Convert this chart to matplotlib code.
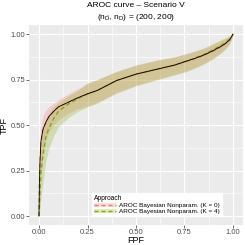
import numpy as np
import matplotlib
matplotlib.use("Agg")
from matplotlib import pyplot as plt
from matplotlib.patches import Patch
from matplotlib.lines import Line2D

plt.rcParams['font.family'] = ['Liberation Sans', 'DejaVu Sans']
plt.rcParams['mathtext.fontset'] = 'custom'
plt.rcParams['mathtext.rm'] = 'Liberation Sans'
plt.rcParams['mathtext.it'] = 'Liberation Sans:italic'

# values
fpf = [0, 0.002, 0.005, 0.01, 0.02, 0.035, 0.05, 0.075, 0.1, 0.15, 0.2, 0.25, 0.3,
       0.4, 0.5, 0.6, 0.7, 0.75, 0.8, 0.85, 0.9, 0.95, 0.98, 0.995, 1.0]
tpf_true = [0, 0.17, 0.30, 0.41, 0.475, 0.515, 0.545, 0.575, 0.60, 0.625, 0.65, 0.672, 0.69,
            0.745, 0.78, 0.805, 0.83, 0.848, 0.865, 0.885, 0.91, 0.94, 0.965, 0.99, 1.0]
k0_mean = [0, 0.16, 0.29, 0.40, 0.47, 0.512, 0.543, 0.574, 0.598, 0.625, 0.65, 0.671, 0.69,
           0.744, 0.779, 0.804, 0.829, 0.846, 0.863, 0.883, 0.907, 0.937, 0.962, 0.988, 1.0]
k0_low = [0, 0.03, 0.10, 0.22, 0.34, 0.42, 0.46, 0.50, 0.53, 0.565, 0.59, 0.605, 0.625,
          0.68, 0.72, 0.75, 0.78, 0.795, 0.815, 0.84, 0.87, 0.91, 0.945, 0.98, 1.0]
k0_up = [0, 0.30, 0.42, 0.50, 0.55, 0.58, 0.60, 0.62, 0.64, 0.67, 0.70, 0.73, 0.75,
         0.795, 0.83, 0.855, 0.875, 0.89, 0.905, 0.92, 0.945, 0.97, 0.985, 0.997, 1.0]
k4_mean = [0, 0.06, 0.13, 0.24, 0.33, 0.435, 0.48, 0.535, 0.575, 0.615, 0.645, 0.67, 0.69,
           0.745, 0.78, 0.805, 0.83, 0.848, 0.867, 0.888, 0.915, 0.945, 0.97, 0.99, 1.0]
k4_low = [0, 0.01, 0.04, 0.10, 0.18, 0.30, 0.37, 0.44, 0.49, 0.54, 0.575, 0.60, 0.62,
          0.675, 0.715, 0.745, 0.775, 0.79, 0.81, 0.835, 0.865, 0.905, 0.94, 0.975, 1.0]
k4_up = [0, 0.16, 0.28, 0.39, 0.47, 0.53, 0.565, 0.60, 0.625, 0.66, 0.69, 0.73, 0.75,
         0.795, 0.83, 0.855, 0.875, 0.89, 0.905, 0.925, 0.95, 0.975, 0.99, 0.998, 1.0]

labels = ['AROC Bayesian Nonparam. (K = 0)', 'AROC Bayesian Nonparam. (K = 4)']
pink = '#F8766D'
green = '#7CAE00'
ticks = [0, 0.25, 0.5, 0.75, 1.0]
tick_labels = ['0.00', '0.25', '0.50', '0.75', '1.00']

fig = plt.figure(figsize=(2.45, 2.45), dpi=100)
ax = fig.add_axes([0.1196, 0.081, 0.871, 0.817])
ax.set_facecolor('#EBEBEB')
for s in ax.spines.values():
    s.set_visible(False)

ax.fill_between(fpf, k0_low, k0_up, color=pink, alpha=0.25, lw=0)
ax.fill_between(fpf, k4_low, k4_up, color=green, alpha=0.25, lw=0)
ax.plot(fpf, k0_mean, color=pink, lw=1.0, ls=(0, (3, 2)))
ax.plot(fpf, k4_mean, color=green, lw=1.0, ls=(0, (3, 2)))
ax.plot(fpf, tpf_true, color='black', lw=0.6)

ax.set_xlim(-0.05, 1.05)
ax.set_ylim(-0.05, 1.05)
ax.set_xticks(ticks)
ax.set_xticklabels(tick_labels)
ax.set_yticks(ticks)
ax.set_yticklabels(tick_labels)
ax.set_xticks([0.125, 0.375, 0.625, 0.875], minor=True)
ax.set_yticks([0.125, 0.375, 0.625, 0.875], minor=True)
ax.grid(which='major', color='white', lw=0.8)
ax.grid(which='minor', color='white', lw=0.4)
ax.set_axisbelow(True)
ax.tick_params(which='major', length=2, width=0.5, color='#333333', labelsize=5.5,
               labelcolor='#4D4D4D', pad=1)
ax.tick_params(which='minor', length=0)

ax.set_xlabel('FPF', fontsize=6.5, labelpad=0)
ax.set_ylabel('TPF', fontsize=6.5, labelpad=1)

fig.text(0.555, 0.978, 'AROC curve – Scenario V', ha='center', va='center', fontsize=6)
fig.text(0.555, 0.93, r'$(\mathregular{n}_{\bar{\mathregular{D}}},\, \mathregular{n}_{\mathregular{D}})$ = (200, 200)',
         ha='center', va='center', fontsize=6)

handles = [(Patch(facecolor=pink, alpha=0.25, lw=0), Line2D([], [], color=pink, lw=1.0, ls=(0, (3, 2)))),
           (Patch(facecolor=green, alpha=0.25, lw=0), Line2D([], [], color=green, lw=1.0, ls=(0, (3, 2))))]
leg = ax.legend(handles, labels, title='Approach', loc='lower left', bbox_to_anchor=(0.294, 0.045),
                fontsize=4.6, title_fontsize=4.8, frameon=True, fancybox=False, edgecolor='white',
                framealpha=1, borderpad=0.3, handlelength=3.5, handletextpad=0.4, labelspacing=0.1,
                borderaxespad=0)
leg._legend_box.align = 'left'

fig.savefig('out.png', dpi=100)
